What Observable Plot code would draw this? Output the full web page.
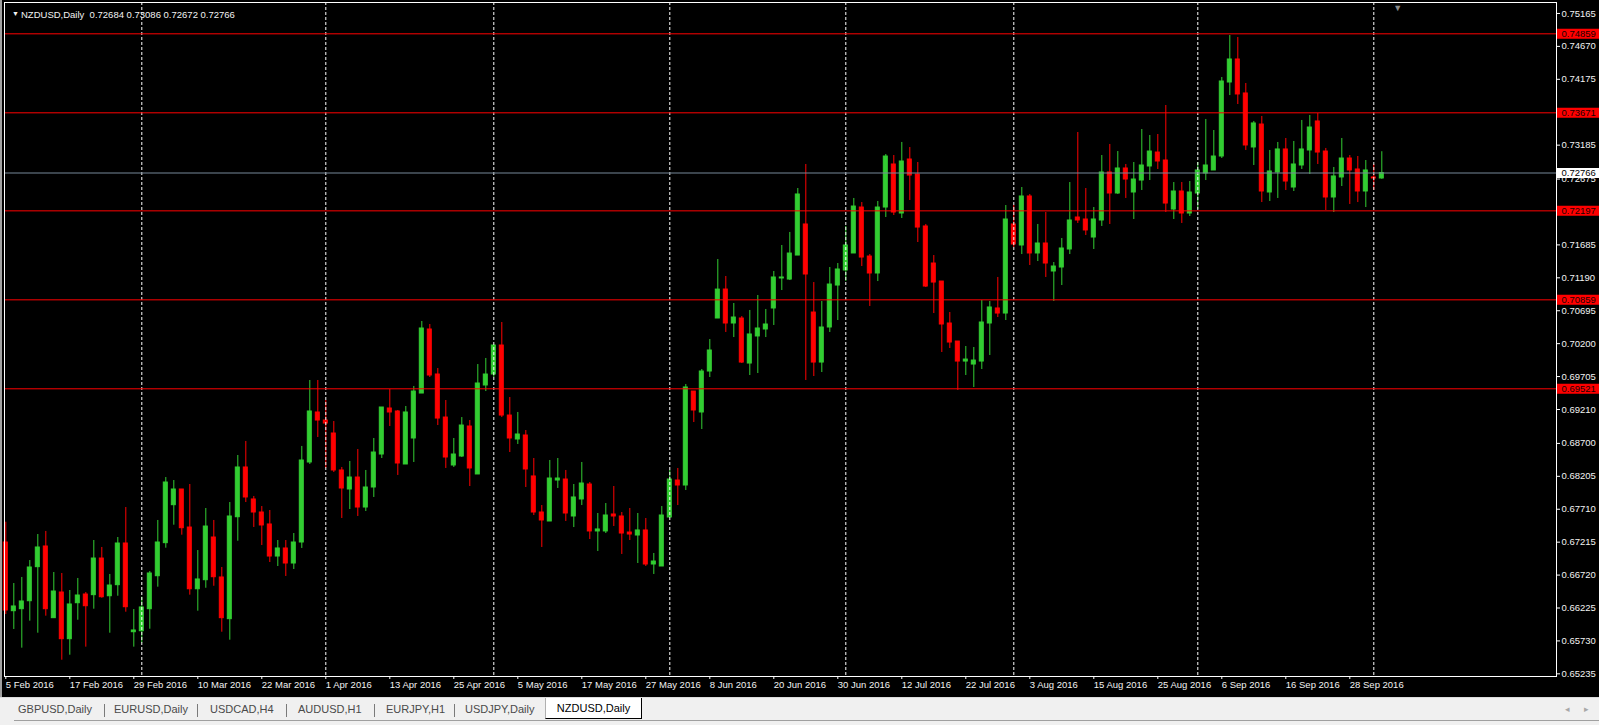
<!DOCTYPE html>
<html>
<head>
<meta charset="utf-8">
<script src="https://cdn.jsdelivr.net/npm/d3@7"></script>
<script src="https://cdn.jsdelivr.net/npm/@observablehq/plot@0.6"></script>
<style>
  html, body { margin:0; padding:0; width:1599px; height:725px; overflow:hidden; background:#f0f0f0;
    font-family:"Liberation Sans", Arial, sans-serif; }
  #chart { position:absolute; left:0; top:0; width:1599px; height:697px; background:#000; }
  #edge { position:absolute; left:0; top:0; width:2px; height:697px; background:#a0a0a0; }
  #tabs { position:absolute; left:0; top:697px; width:1599px; height:28px; background:#f0f0f0;
    border-top:1px solid #dcdcdc; box-sizing:border-box; }
  #tabs .tab { position:absolute; top:5px; font-size:11px; color:#4a4a4a; white-space:nowrap; }
  #tabs .sep { position:absolute; top:6px; width:1px; height:13px; background:#7a7a7a; }
  #tabs .active { position:absolute; top:0; height:20px; background:#fff; border-left:1px solid #b0b0b0;
    border-right:1px solid #000; border-bottom:1px solid #000; font-size:11px; color:#000;
    line-height:20px; text-align:center; white-space:nowrap; }
  #tabs .arrow { position:absolute; top:6px; font-size:9px; color:#a8a8a8; }
  #tabs .bottom { position:absolute; left:14px; right:0; top:22px; height:1px; background:#a0a0a0; }
</style>
</head>
<body>
<div id="chart"></div>
<div id="edge"></div>
<div id="tabs"></div>
<script>
// ---------------- data ----------------
const symbol = "NZDUSD";
const timeframe = "Daily";
const firstDate = "2016-02-05";

const opens = [0.67210,0.66177,0.66207,0.66327,0.66839,0.67150,0.66072,0.66458,0.65756,0.66297,
0.66428,0.66418,0.66969,0.66402,0.66568,0.67195,0.65861,0.65876,0.66207,0.66703,
0.67200,0.67771,0.68007,0.67435,0.66507,0.66643,0.67285,0.66684,0.66057,0.67590,
0.68338,0.67857,0.67661,0.67481,0.66999,0.67120,0.66894,0.67210,0.68413,0.69165,
0.69044,0.68849,0.68293,0.68007,0.68187,0.67736,0.68037,0.68533,0.69225,0.69180,
0.68383,0.68774,0.69450,0.70413,0.69736,0.69089,0.68368,0.68503,0.68954,0.68233,
0.69571,0.69736,0.70172,0.69119,0.68759,0.68819,0.68203,0.67661,0.67526,0.68142,
0.68157,0.67601,0.67857,0.68082,0.67376,0.67376,0.67631,0.67601,0.67360,0.67315,
0.67391,0.66879,0.66849,0.67586,0.68142,0.68067,0.69480,0.69165,0.69781,0.70578,
0.71014,0.70503,0.70578,0.69901,0.70308,0.70413,0.70729,0.71180,0.71164,0.71525,
0.71992,0.70668,0.69916,0.70443,0.71074,0.71300,0.71556,0.72247,0.71510,0.71255,
0.72247,0.72894,0.72157,0.72969,0.72743,0.71962,0.71405,0.71134,0.70503,0.70232,
0.69931,0.69886,0.69931,0.70503,0.70729,0.70653,0.71992,0.71676,0.72413,0.71556,
0.71706,0.71285,0.71345,0.71616,0.72097,0.72067,0.71796,0.72052,0.72774,0.72458,
0.72834,0.72473,0.72653,0.72864,0.73074,0.72954,0.72217,0.72488,0.72157,0.72458,
0.72759,0.72804,0.73014,0.74127,0.74473,0.73962,0.73150,0.73495,0.72473,0.72774,
0.73120,0.72548,0.72879,0.73105,0.73541,0.73089,0.72398,0.72699,0.72984,0.72819,
0.72488,0.72699,0.72684];

const highs = [0.67515,0.66593,0.66684,0.66939,0.67330,0.67376,0.66759,0.66744,0.66488,0.66669,
0.66458,0.67240,0.67135,0.66729,0.67285,0.67736,0.66202,0.66387,0.66774,0.67541,
0.68187,0.68142,0.68007,0.68082,0.67089,0.67721,0.67541,0.66834,0.67811,0.68518,
0.68729,0.67902,0.67751,0.67691,0.67240,0.67240,0.67345,0.68654,0.69646,0.69646,
0.69345,0.69029,0.68338,0.68428,0.68608,0.68293,0.68774,0.69240,0.69510,0.69195,
0.69255,0.69556,0.70533,0.70488,0.69826,0.69345,0.68774,0.69089,0.69044,0.69886,
0.69977,0.70172,0.70518,0.69390,0.69165,0.68894,0.68473,0.67766,0.68443,0.68473,
0.68293,0.68082,0.68413,0.68112,0.67646,0.67796,0.68052,0.67661,0.67721,0.67646,
0.67571,0.67045,0.67751,0.68293,0.68323,0.69586,0.69480,0.69811,0.70262,0.71465,
0.71210,0.70804,0.70608,0.70699,0.70924,0.70714,0.71285,0.71676,0.71872,0.72533,
0.72894,0.71119,0.70834,0.71345,0.71405,0.71962,0.72383,0.72322,0.71540,0.72338,
0.73044,0.73029,0.73225,0.73149,0.72924,0.71992,0.71525,0.71134,0.70668,0.70232,
0.70157,0.70142,0.70849,0.70834,0.71195,0.72277,0.72277,0.72548,0.72443,0.71992,
0.72172,0.71420,0.71781,0.72623,0.73375,0.72533,0.72247,0.73029,0.73195,0.73089,
0.72894,0.72924,0.73420,0.73330,0.73345,0.73781,0.72623,0.72623,0.72638,0.72924,
0.73571,0.73405,0.74202,0.74834,0.74804,0.74112,0.73541,0.73616,0.73105,0.73225,
0.73285,0.73240,0.73556,0.73631,0.73661,0.73135,0.72849,0.73285,0.73029,0.73014,
0.72954,0.72894,0.73086];

const lows = [0.66127,0.65902,0.65621,0.66027,0.65846,0.66102,0.66072,0.65440,0.65515,0.66041,
0.65636,0.66207,0.66372,0.65846,0.66402,0.66162,0.65636,0.65696,0.65906,0.66538,
0.67124,0.67470,0.67320,0.66418,0.66177,0.66522,0.66552,0.65861,0.65741,0.67229,
0.67811,0.67436,0.67165,0.66909,0.66849,0.66699,0.66804,0.67120,0.68383,0.68789,
0.68323,0.68263,0.67571,0.67706,0.67601,0.67676,0.67887,0.68473,0.68954,0.68218,
0.68383,0.68413,0.69450,0.69691,0.68969,0.68323,0.68338,0.68488,0.68052,0.68233,
0.69480,0.69691,0.69089,0.68563,0.68684,0.68037,0.67616,0.67135,0.67526,0.68022,
0.67526,0.67435,0.67766,0.67255,0.67075,0.67345,0.67451,0.67030,0.67240,0.66894,
0.66849,0.66729,0.66849,0.67586,0.67766,0.67992,0.69014,0.68909,0.69691,0.70578,
0.70368,0.70292,0.69901,0.69721,0.69751,0.70292,0.70473,0.70999,0.71149,0.71525,
0.69646,0.69706,0.69766,0.70368,0.70548,0.71134,0.71556,0.71360,0.70759,0.71134,
0.72097,0.72127,0.72082,0.72353,0.71721,0.71044,0.70653,0.70067,0.70127,0.69496,
0.69721,0.69540,0.69811,0.70022,0.70593,0.70548,0.71646,0.71540,0.71375,0.71435,
0.71195,0.70834,0.71074,0.71540,0.72007,0.71826,0.71616,0.71962,0.71992,0.72443,
0.72383,0.72067,0.72503,0.72653,0.72819,0.72172,0.72067,0.72007,0.72112,0.72217,
0.72653,0.72804,0.72984,0.73931,0.73796,0.73105,0.72879,0.72322,0.72338,0.72383,
0.72503,0.72488,0.72819,0.72744,0.72894,0.72202,0.72172,0.72563,0.72293,0.72322,
0.72247,0.72503,0.72672];

const closes = [0.66187,0.66248,0.66323,0.66834,0.67135,0.66207,0.66473,0.65756,0.66278,0.66413,
0.66252,0.66969,0.66387,0.66563,0.67195,0.66237,0.65887,0.66233,0.66744,0.67210,
0.68112,0.68007,0.67425,0.66507,0.66654,0.67450,0.66688,0.66072,0.67601,0.68338,
0.67887,0.67661,0.67466,0.66999,0.67120,0.66894,0.67210,0.68443,0.69180,0.69044,
0.68999,0.68293,0.68022,0.68187,0.67736,0.68037,0.68563,0.69240,0.69165,0.68398,
0.69165,0.69480,0.70428,0.69721,0.69074,0.68488,0.68533,0.68969,0.68323,0.69601,
0.69736,0.70172,0.69119,0.68774,0.68834,0.68308,0.67661,0.67541,0.68172,0.68172,
0.67646,0.67887,0.68097,0.67376,0.67406,0.67616,0.67601,0.67345,0.67330,0.67391,
0.66879,0.66924,0.67616,0.68157,0.68067,0.69541,0.69195,0.69781,0.70097,0.71013,
0.70503,0.70593,0.69916,0.70338,0.70428,0.70488,0.71195,0.71195,0.71555,0.72443,
0.71240,0.69916,0.70443,0.71089,0.71315,0.71676,0.72262,0.71495,0.71255,0.72247,
0.73014,0.72172,0.72939,0.72728,0.71946,0.71059,0.71119,0.70488,0.70217,0.69931,
0.69961,0.69946,0.70518,0.70744,0.70653,0.72067,0.71691,0.72413,0.71556,0.71706,
0.71405,0.71360,0.71631,0.72052,0.72052,0.71902,0.72067,0.72774,0.72458,0.72834,
0.72668,0.72668,0.72879,0.73089,0.72939,0.72307,0.72488,0.72157,0.72473,0.72804,
0.72879,0.73014,0.74142,0.74473,0.73947,0.73180,0.73511,0.72488,0.72789,0.73120,
0.72638,0.72894,0.73120,0.73450,0.73074,0.72398,0.72714,0.72984,0.72804,0.72488,
0.72804,0.72684,0.72766];

const levels = [0.74859, 0.73671, 0.72197, 0.70859, 0.69521];   // red horizontal lines
const bid = 0.72766;                                              // grey bid line

const yTickLabels = ["0.75165","0.74670","0.74175","0.73185","0.72675","0.71685","0.71190",
  "0.70695","0.70200","0.69705","0.69210","0.68700","0.68205","0.67710","0.67215","0.66720",
  "0.66225","0.65730","0.65235"];

const xTickLabels = ["5 Feb 2016","17 Feb 2016","29 Feb 2016","10 Mar 2016","22 Mar 2016",
  "1 Apr 2016","13 Apr 2016","25 Apr 2016","5 May 2016","17 May 2016","27 May 2016",
  "8 Jun 2016","20 Jun 2016","30 Jun 2016","12 Jul 2016","22 Jul 2016","3 Aug 2016",
  "15 Aug 2016","25 Aug 2016","6 Sep 2016","16 Sep 2016","28 Sep 2016"];

const tabNames = ["GBPUSD,Daily","EURUSD,Daily","USDCAD,H4","AUDUSD,H1","EURJPY,H1","USDJPY,Daily","NZDUSD,Daily"];

// ---------------- build table ----------------
const monthNames = ["Jan","Feb","Mar","Apr","May","Jun","Jul","Aug","Sep","Oct","Nov","Dec"];
const dates = [];
for (let d = new Date(firstDate + "T00:00:00Z"); dates.length < opens.length; d.setUTCDate(d.getUTCDate() + 1)) {
  const wd = d.getUTCDay();
  if (wd !== 0 && wd !== 6) dates.push(new Date(d));
}
const fmtDate = d => `${d.getUTCDate()} ${monthNames[d.getUTCMonth()]} ${d.getUTCFullYear()}`;
const bars = opens.map((o, i) => ({
  i, date: dates[i], label: fmtDate(dates[i]),
  open: o, high: highs[i], low: lows[i], close: closes[i], up: closes[i] >= o
}));
const xTicks = xTickLabels.map(l => bars.findIndex(b => b.label === l));
const separators = bars.filter((b, k) => k > 0 && b.date.getUTCMonth() !== bars[k - 1].date.getUTCMonth()).map(b => b.i);
const last = bars[bars.length - 1];

const GREEN = "#32cd32", RED = "#ff0000";
const colorOf = d => d.up ? GREEN : RED;

const W = 1599, H = 697;
const mL = 4, mR = 43, mT = 2, mB = 21;
const barStep = 8, firstBarX = 5.3;     // pixel layout of the bars
const xDomain = [(mL - firstBarX) / barStep, (W - mR - firstBarX) / barStep];
const pxPrice = 0.00015037, priceAtTop0 = 0.7536;
const yDomain = [priceAtTop0 - (H - mB) * pxPrice, priceAtTop0 - mT * pxPrice];
const FS = 9.5;

const titleText = `${symbol},${timeframe}\u00a0\u00a0` +
  [last.open, last.high, last.low, last.close].map(v => v.toFixed(5)).join(" ");

const boxInsetLeft = (W - mR - mL) + 1;

const chart = Plot.plot({
  width: W, height: H,
  marginLeft: mL, marginRight: mR, marginTop: mT, marginBottom: mB,
  style: { background: "#000", color: "#f2f2f2", fontFamily: "'Liberation Sans', Arial, sans-serif", fontSize: FS + "px", overflow: "visible" },
  x: { type: "linear", domain: xDomain, axis: null },
  y: { type: "linear", domain: yDomain, axis: null },
  marks: [
    Plot.ruleX(bars, { x: "i", y1: "low", y2: "high", stroke: colorOf, strokeWidth: 1 }),
    Plot.rect(bars, { x1: d => d.i - 0.25, x2: d => d.i + 0.25, y1: "open", y2: "close",
      fill: colorOf, stroke: colorOf, strokeWidth: 1 }),
    Plot.ruleX(separators, { x: d => d, stroke: "#fff", strokeDasharray: "3,2", strokeWidth: 1 }),
    Plot.ruleY(levels, { y: d => d, stroke: RED, strokeWidth: 1 }),
    Plot.ruleY([bid], { y: d => d, stroke: "#778899", strokeWidth: 1 }),
    Plot.frame({ stroke: "#fff" }),
    Plot.axisY({ anchor: "right", ticks: yTickLabels.map(Number), tickFormat: d => d.toFixed(5),
      tickSize: 3, tickPadding: 2, label: null, stroke: "#fff", fill: "#f2f2f2", fontSize: FS }),
    Plot.axisX({ anchor: "bottom", ticks: xTicks, tickFormat: d => bars[d].label,
      tickSize: 3, tickPadding: 2, label: null, textAnchor: "start", stroke: "#fff", fill: "#f2f2f2", fontSize: FS }),
    // price labels of the horizontal lines
    Plot.ruleY(levels, { y: d => d, stroke: RED, strokeWidth: 10, insetLeft: boxInsetLeft, insetRight: -mR }),
    Plot.ruleY([bid], { y: d => d, stroke: "#fff", strokeWidth: 10, insetLeft: boxInsetLeft, insetRight: -mR }),
    Plot.text(levels, { y: d => d, text: d => d.toFixed(5), frameAnchor: "right", textAnchor: "start", dx: 5, fill: "#1a0000", fontSize: FS }),
    Plot.text([bid], { y: d => d, text: d => d.toFixed(5), frameAnchor: "right", textAnchor: "start", dx: 5, fill: "#000", fontSize: FS }),
    // title
    Plot.text(["\u25bc"], { frameAnchor: "top-left", dx: 7.5, dy: 9, textAnchor: "start", fill: "#f2f2f2", fontSize: 7 }),
    Plot.text([titleText], { frameAnchor: "top-left", dx: 16.5, dy: 9, textAnchor: "start", fill: "#f2f2f2", fontSize: FS }),
    // chart shift marker
    Plot.text(["\u25bc"], { x: () => last.i + 2, frameAnchor: "top", dy: 2, fill: "#8a8a8a", fontSize: 9 })
  ]
});
document.getElementById("chart").appendChild(chart);

// make sure the price-label boxes sit in the right margin only
chart.querySelectorAll("g[aria-label='rule']").forEach(g => {
  g.querySelectorAll("line").forEach(line => {
    if (line.getAttribute("stroke-width") === "10" || g.getAttribute("stroke-width") === "10") {
      line.setAttribute("x1", W - mR + 1);
      line.setAttribute("x2", W);
    }
  });
});

// ---------------- tab bar ----------------
const tabs = document.getElementById("tabs");
const tabLeft = [18, 114, 210, 298, 386, 465];
const sepLeft = [104, 197, 286, 374, 454];
tabNames.slice(0, -1).forEach((t, k) => {
  const s = document.createElement("span"); s.className = "tab"; s.style.left = tabLeft[k] + "px"; s.textContent = t; tabs.appendChild(s);
});
sepLeft.forEach(x => { const s = document.createElement("span"); s.className = "sep"; s.style.left = x + "px"; tabs.appendChild(s); });
const act = document.createElement("div"); act.className = "active"; act.style.left = "545px"; act.style.width = "95px";
act.textContent = tabNames[tabNames.length - 1]; tabs.appendChild(act);
const bl = document.createElement("div"); bl.className = "bottom"; tabs.appendChild(bl);
[["\u25c2", 1565], ["\u25b8", 1584]].forEach(([c, x]) => { const s = document.createElement("span"); s.className = "arrow"; s.style.left = x + "px"; s.textContent = c; tabs.appendChild(s); });
</script>
</body>
</html>
